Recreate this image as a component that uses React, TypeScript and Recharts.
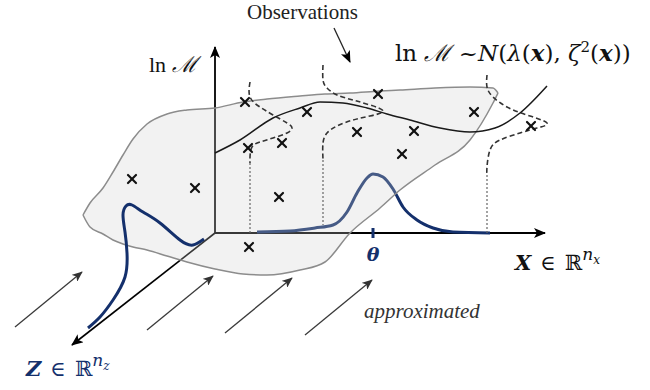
import React from "react";
import { ComposedChart, XAxis, YAxis, Line, Area, Scatter } from "recharts";

// drawing frame: origin where the three axes meet, x to the right, y upwards

// shaded surface (lower and upper edge at each x)
const surfX = [-132, -125, -112, -102, -92, -82, -68, -48, -28, 0, 28, 52, 85, 110, 135, 165, 185, 220, 255, 278, 283];
const surfLow = [18, 6, -1, -7, -11, -14, -17, -23, -29, -36, -41, -42, -37, -29, 0, 25, 43, 68, 93, 130, 140];
const surfHigh = [18, 30, 45, 61, 78, 94, 109, 119, 123, 125, 131, 134, 137, 139, 140, 142, 143, 145, 146, 145, 140];

// mean curve lambda(x)
const meanX = [0, 25, 58, 85, 105, 128, 152, 172, 195, 225, 255, 280, 305, 332];
const meanY = [80, 93, 115, 125, 131, 130, 125, 119, 113, 105, 101, 105, 120, 147];

// observed points
const obsX = [30, 92, 33, 67, -83, -20, 64, 163, 259, 142, 199, 187, 316, 34];
const obsY = [131, 121, 85, 90, 54, 45, 36, 139, 121, 101, 102, 79, 107, -14];

// observation densities (dashed) and their drop lines (dotted)
const dens1X = [35, 35, 45, 58, 72, 77, 72, 58, 45, 37, 35, 35];
const dens1Y = [151, 136, 126, 118, 110, 105, 100, 95, 91, 86, 76, 70];
const dens2X = [108, 108, 112, 122, 138, 155, 168, 155, 138, 122, 112, 108, 108];
const dens2Y = [168, 153, 145, 138, 133, 128, 122, 117, 113, 107, 100, 90, 73];
const dens3X = [272, 272, 278, 292, 312, 332, 322, 305, 285, 275, 272, 272];
const dens3Y = [158, 146, 136, 126, 118, 110, 105, 100, 93, 83, 66, 58];
const drop1 = [{ x: 35, y: 70 }, { x: 35, y: 0 }];
const drop2 = [{ x: 108, y: 73 }, { x: 108, y: 8 }];
const drop3 = [{ x: 272, y: 58 }, { x: 272, y: 0 }];

// parameter density along X (peak at theta)
const bellXx = [42, 75, 100, 118, 132, 142, 152, 158, 168, 178, 188, 202, 218, 238, 275];
const bellXy = [1, 2, 5, 8, 21, 40, 55, 59, 56, 44, 26, 13, 5, 1, 0];
const thetaTick = [{ x: 158, y: 5 }, { x: 158, y: -5 }];

// density along Z
const bellZx = [-11, -22, -35, -55, -72, -83, -89, -92, -90, -88, -90, -102, -115, -127];
const bellZy = [-6, -12, -7, 10, 21, 28, 27, 18, 1, -20, -44, -67, -84, -95];

// axes
const axisLnM = [{ x: 0, y: 0 }, { x: 0, y: 186 }];
const axisX = [{ x: 0, y: 0 }, { x: 330, y: 0 }];
const axisZ = [{ x: 0, y: 0 }, { x: -143, y: -112 }];
const obsArrow = [{ x: 119, y: 205 }, { x: 135, y: 171 }];
const flowFromX = [-200, -68, 10, 90];
const flowFromY = [-94, -97, -100, -102];
const flowToX = [-133, -2, 77, 157];
const flowToY = [-39, -43, -45, -47];

// text
const labelIds = ["obs", "lnm", "formula", "theta", "xspace", "approx", "zspace"];
const labelX = [32, -66, 180, 158, 300, 149, -189];
const labelY = [214, 161, 172, -28, -37, -85, -143];
const labelText = ["Observations", "ln", "approximated"];

const pts = (xs: number[], ys: number[]) => xs.map((x, i) => ({ x, y: ys[i] }));
const surface = surfX.map((x, i) => ({ x, range: [surfLow[i], surfHigh[i]] }));
const labels = labelIds.map((id, i) => ({ id, x: labelX[i], y: labelY[i] }));
const flows = flowFromX.map((x, i) => [
  { x, y: flowFromY[i] },
  { x: flowToX[i], y: flowToY[i] },
]);

const NAVY = "#14306c";
const SERIF = "'Liberation Serif', 'DejaVu Serif', serif";
const MATH = "'DejaVu Serif', serif";

const Cross = (p: any) => {
  const s = 4;
  return (
    <g stroke="#111" strokeWidth={2.2} strokeLinecap="round">
      <line x1={p.cx - s} y1={p.cy - s} x2={p.cx + s} y2={p.cy + s} />
      <line x1={p.cx - s} y1={p.cy + s} x2={p.cx + s} y2={p.cy - s} />
    </g>
  );
};

const Label = (p: any) => {
  const { cx, cy } = p;
  const id = p.payload?.id ?? p.id;
  if (id === "obs")
    return (
      <text x={cx} y={cy} fontFamily={SERIF} fontSize={21} fill="#222">
        {labelText[0]}
      </text>
    );
  if (id === "lnm")
    return (
      <text x={cx} y={cy} fontFamily={SERIF} fontSize={22} fill="#111">
        {labelText[1]} <tspan fontStyle="italic">ℳ</tspan>
      </text>
    );
  if (id === "formula")
    return (
      <text x={cx} y={cy} fontFamily={MATH} fontSize={23} fill="#111">
        ln <tspan fontStyle="italic">ℳ</tspan> ~<tspan fontStyle="italic">N</tspan>(
        <tspan fontStyle="italic">λ</tspan>(<tspan fontStyle="italic" fontWeight="bold">x</tspan>),{" "}
        <tspan fontStyle="italic">ζ</tspan>
        <tspan fontSize={15} dy={-9}>2</tspan>
        <tspan dy={9}>(</tspan>
        <tspan fontStyle="italic" fontWeight="bold">x</tspan>))
      </text>
    );
  if (id === "theta")
    return (
      <text x={cx} y={cy} textAnchor="middle" fontFamily={MATH} fontSize={19} fontStyle="italic" fontWeight="bold" fill={NAVY}>
        θ
      </text>
    );
  if (id === "xspace")
    return (
      <text x={cx} y={cy} fontFamily={MATH} fontSize={21} fill="#111">
        <tspan fontStyle="italic" fontWeight="bold">X</tspan>
        <tspan dx={9}>∈</tspan>
        <tspan dx={9}>ℝ</tspan>
        <tspan fontSize={17} fontStyle="italic" dy={-10}>n</tspan>
        <tspan fontSize={12} fontStyle="italic" dy={4}>x</tspan>
      </text>
    );
  if (id === "approx")
    return (
      <text x={cx} y={cy} fontFamily={SERIF} fontSize={21} fontStyle="italic" fill="#333">
        {labelText[2]}
      </text>
    );
  return (
    <text x={cx} y={cy} fontFamily={MATH} fontSize={21} fill={NAVY}>
      <tspan fontStyle="italic" fontWeight="bold">Z</tspan>
      <tspan dx={9}>∈</tspan>
      <tspan dx={9}>ℝ</tspan>
      <tspan fontSize={17} fontStyle="italic" dy={-10}>n</tspan>
      <tspan fontSize={12} fontStyle="italic" dy={4}>z</tspan>
    </text>
  );
};

export default function App() {
  return (
    <div style={{ position: "absolute", left: 0, top: 0, background: "#fff" }}>
      <ComposedChart width={650} height={390} margin={{ top: 0, right: 0, bottom: 0, left: 0 }}>
        <defs>
          <marker id="headBlack" viewBox="0 0 12 10" refX={11} refY={5} markerWidth={13} markerHeight={10} markerUnits="userSpaceOnUse" orient="auto">
            <path d="M0,0 L12,5 L0,10 L3,5 z" fill="#000" />
          </marker>
          <marker id="headGray" viewBox="0 0 12 10" refX={11} refY={5} markerWidth={11} markerHeight={9} markerUnits="userSpaceOnUse" orient="auto">
            <path d="M0,0 L12,5 L0,10 L3,5 z" fill="#333" />
          </marker>
        </defs>
        <XAxis type="number" dataKey="x" domain={[-215, 435]} allowDataOverflow hide />
        <YAxis type="number" dataKey="y" domain={[-157, 233]} allowDataOverflow hide />

        <Line data={axisLnM} dataKey="y" type="linear" stroke="#000" strokeWidth={1.8} dot={false} activeDot={false} markerEnd="url(#headBlack)" isAnimationActive={false} zIndex={10} />
        <Line data={axisX} dataKey="y" type="linear" stroke="#000" strokeWidth={1.8} dot={false} activeDot={false} markerEnd="url(#headBlack)" isAnimationActive={false} zIndex={11} />
        <Line data={axisZ} dataKey="y" type="linear" stroke="#000" strokeWidth={1.6} dot={false} activeDot={false} markerEnd="url(#headBlack)" isAnimationActive={false} zIndex={12} />
        {flows.map((f, i) => (
          <Line key={"flow" + i} data={f} dataKey="y" type="linear" stroke="#3a3a3a" strokeWidth={1.3} dot={false} activeDot={false} markerEnd="url(#headGray)" isAnimationActive={false} zIndex={13} />
        ))}
        <Line data={pts(bellXx, bellXy)} dataKey="y" type="monotone" stroke={NAVY} strokeWidth={3} dot={false} activeDot={false} isAnimationActive={false} zIndex={14} />

        <Area data={surface} dataKey="range" type="monotone" fill="#d0d0d0" fillOpacity={0.27} stroke="#8c8c8c" strokeWidth={1.5} dot={false} activeDot={false} isAnimationActive={false} zIndex={20} />

        <Line data={thetaTick} dataKey="y" type="linear" stroke={NAVY} strokeWidth={3} dot={false} activeDot={false} isAnimationActive={false} zIndex={30} />
        <Line data={pts(bellZx, bellZy)} dataKey="y" type="natural" stroke={NAVY} strokeWidth={3} dot={false} activeDot={false} isAnimationActive={false} zIndex={31} />
        <Line data={pts(dens1X, dens1Y)} dataKey="y" type="natural" stroke="#333" strokeWidth={1.6} strokeDasharray="5 3" dot={false} activeDot={false} isAnimationActive={false} zIndex={32} />
        <Line data={pts(dens2X, dens2Y)} dataKey="y" type="natural" stroke="#333" strokeWidth={1.6} strokeDasharray="5 3" dot={false} activeDot={false} isAnimationActive={false} zIndex={33} />
        <Line data={pts(dens3X, dens3Y)} dataKey="y" type="natural" stroke="#333" strokeWidth={1.6} strokeDasharray="5 3" dot={false} activeDot={false} isAnimationActive={false} zIndex={34} />
        {[drop1, drop2, drop3].map((d, i) => (
          <Line key={"drop" + i} data={d} dataKey="y" type="linear" stroke="#666" strokeWidth={1.2} strokeDasharray="2 2" dot={false} activeDot={false} isAnimationActive={false} zIndex={35} />
        ))}
        <Line data={pts(meanX, meanY)} dataKey="y" type="monotone" stroke="#1a1a1a" strokeWidth={1.5} dot={false} activeDot={false} isAnimationActive={false} zIndex={36} />
        <Line data={obsArrow} dataKey="y" type="linear" stroke="#222" strokeWidth={1.3} dot={false} activeDot={false} markerEnd="url(#headBlack)" isAnimationActive={false} zIndex={37} />

        <Scatter data={pts(obsX, obsY)} shape={Cross} isAnimationActive={false} zIndex={40} />
        <Scatter data={labels} shape={Label} isAnimationActive={false} zIndex={50} />
      </ComposedChart>
    </div>
  );
}
